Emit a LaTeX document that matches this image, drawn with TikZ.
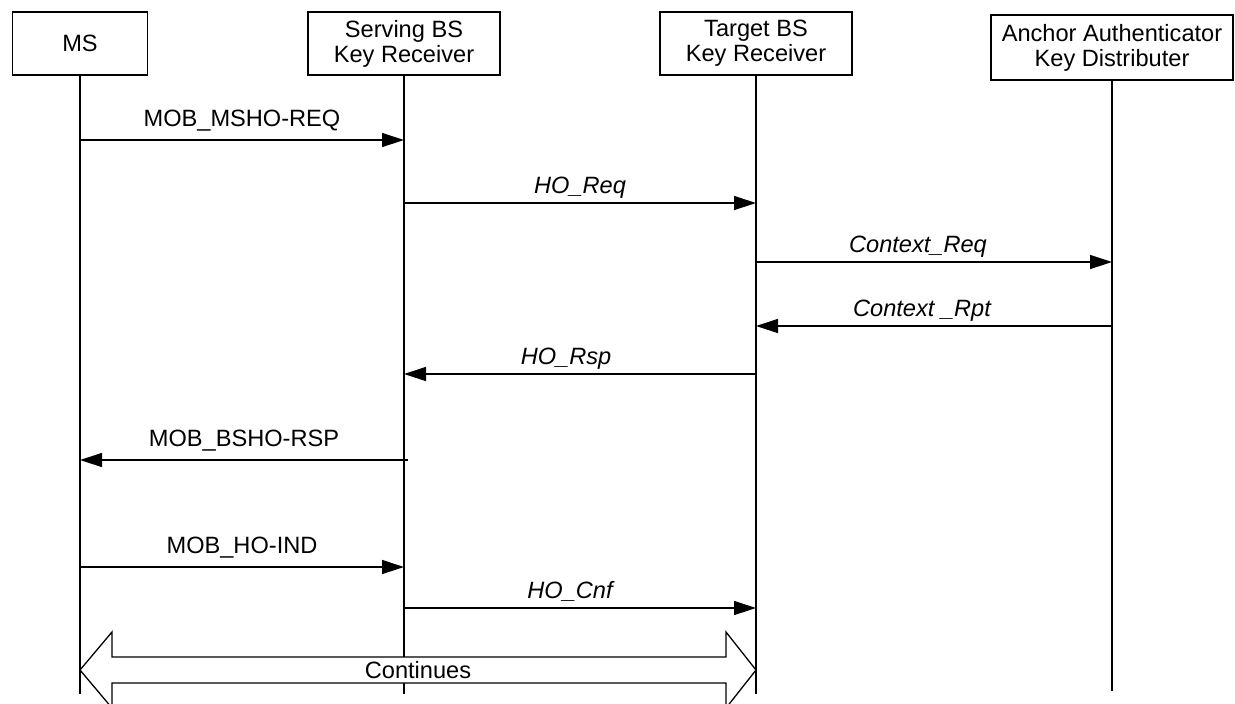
\documentclass[tikz,border=0pt]{standalone}
\usepackage{fontspec}
\setmainfont{Liberation Sans}
\usetikzlibrary{arrows.meta}
\tikzset{
  entity_box/.style = {rectangle, draw=black, line width=0.65pt, align=center,
    inner sep=0pt, minimum height=31.5pt,
    font=\fontsize{11.8}{12.6}\selectfont},% boite d'entite
  life_line/.style = {draw=black, line width=0.55pt},% ligne de vie
  msg_arrow/.style = {draw=black, line width=0.65pt,
    -{Triangle[length=11pt, width=7pt]}},% message
  msg_label/.style = {midway, anchor=base, inner sep=0pt, yshift=7pt,
    font=\fontsize{11.8}{12.6}\selectfont},% etiquette droite
  msg_label_it/.style = {midway, anchor=base, inner sep=0pt, yshift=5pt,
    font=\fontsize{11.8}{12.6}\selectfont\itshape},% etiquette italique
  cont_arrow/.style = {draw=black, fill=white, line width=0.65pt,
    line join=miter}% fleche double
}
\begin{document}
\begin{tikzpicture}[x=0.5pt, y=-0.5pt]
    \useasboundingbox (0,0) rectangle (1235,703);
    % entites
    \node [entity_box, minimum width=67.5pt] (ms) at (80,43.5) {MS};
    \node [entity_box, minimum width=96pt] (serving) at (404,43.5) {Serving BS\\Key Receiver};
    \node [entity_box, minimum width=96pt] (target) at (756,43.5) {Target BS\\Key Receiver};
    \node [entity_box, minimum width=121pt, minimum height=32.5pt] (anchor) at (1112,47.5)
      {Anchor Authenticator\\Key Distributer};
    % lignes de vie
    \draw [life_line] (ms.south) -- (ms |- 0,694);
    \draw [life_line] (serving.south) -- (serving |- 0,694);
    \draw [life_line] (target.south) -- (target |- 0,694);
    \draw [life_line] (anchor.south) -- (anchor |- 0,691);
    % messages
    \draw [msg_arrow] (ms |- 0,140) -- (serving |- 0,140)
      node [msg_label] {MOB\_MSHO-REQ};
    \draw [msg_arrow] (serving |- 0,203) -- (target |- 0,203)
      node [msg_label_it] {HO\_Req};
    \draw [msg_arrow] (target |- 0,262) -- (anchor |- 0,262)
      node [msg_label_it, xshift=-8pt] {Context\_Req};
    \draw [msg_arrow] (anchor |- 0,326) -- (target |- 0,326)
      node [msg_label_it, xshift=-6pt] {Context \_Rpt};
    \draw [msg_arrow] (target |- 0,374) -- (serving |- 0,374)
      node [msg_label_it, xshift=-7pt] {HO\_Rsp};
    \draw [msg_arrow] ([xshift=2pt]serving |- 0,460) -- (ms |- 0,460)
      node [msg_label] {MOB\_BSHO-RSP};
    \draw [msg_arrow] (ms |- 0,567) -- (serving |- 0,567)
      node [msg_label] {MOB\_HO-IND};
    \draw [msg_arrow] (serving |- 0,608) -- (target |- 0,608)
      node [msg_label_it, xshift=-5pt] {HO\_Cnf};
    % suite
    \draw [cont_arrow] (ms |- 0,670) -- (112,632) -- (112,657) -- (726,657)
      -- (726,632) -- (target |- 0,670) -- (726,708) -- (726,683)
      -- (112,683) -- (112,708) -- cycle;
    \node [font=\fontsize{11.8}{12.6}\selectfont, inner sep=0pt] (continues) at (418,670) {Continues};
\end{tikzpicture}
\end{document}
